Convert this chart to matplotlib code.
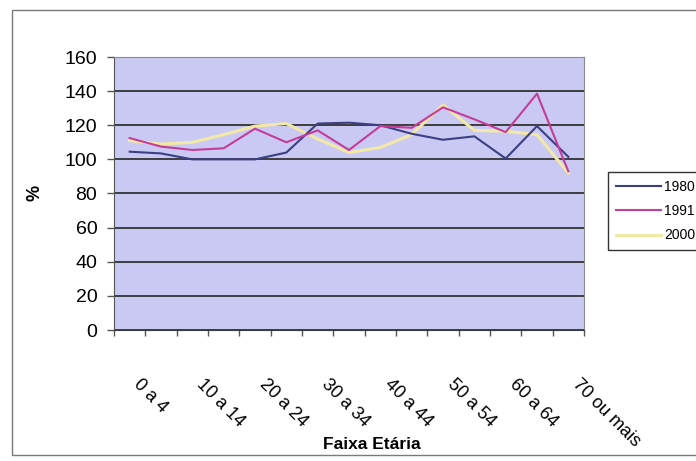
import matplotlib
matplotlib.use("Agg")
import matplotlib.pyplot as plt
from matplotlib.transforms import ScaledTranslation
from matplotlib.patches import Rectangle

# -------------------------
# data
# -------------------------
categories = ["0 a 4", "5 a 9", "10 a 14", "15 a 19", "20 a 24", "25 a 29",
              "30 a 34", "35 a 39", "40 a 44", "45 a 49", "50 a 54", "55 a 59",
              "60 a 64", "65 a 69", "70 ou mais"]
s1980 = [104.5, 103.5, 100, 100, 100, 104, 121, 121.5, 120, 115, 111.5, 113.5, 100.5, 119.5, 101.5]
s1991 = [112.5, 107.5, 105.5, 106.5, 118, 110, 117, 105.5, 119.5, 118.5, 130.5, 123.5, 116, 138.5, 93]
s2000 = [111, 109, 110, 114.5, 119.5, 121, 112, 104, 107, 114.5, 132, 117, 116.5, 114.5, 92]
y_ticks = [0, 20, 40, 60, 80, 100, 120, 140, 160]

plt.rcParams["font.family"] = ["Liberation Sans", "DejaVu Sans"]

W, H = 696, 461
fig = plt.figure(figsize=(W / 100, H / 100), dpi=100)
fig.patch.set_facecolor("white")

# outer chart frame
fig.patches.append(Rectangle((12 / W, 6 / H), 1.2, 1 - 16 / H, transform=fig.transFigure,
                             fill=False, edgecolor="#7a7a7a", linewidth=1.0))

ax = fig.add_axes([114 / W, 1 - 330 / H, 470 / W, 273 / H])
ax.set_facecolor("#c9c9f3")

x = list(range(len(categories)))
ax.plot(x, s2000, color="#f3e9a6", linewidth=2.2, label="2000", zorder=3)
ax.plot(x, s1980, color="#3c3f82", linewidth=1.5, label="1980", zorder=4)
ax.plot(x, s1991, color="#c43d98", linewidth=1.5, label="1991", zorder=5)

ax.set_xlim(-0.5, len(categories) - 0.5)
ax.set_ylim(0, 160)
ax.set_yticks(y_ticks)
ax.yaxis.grid(True, color="#333333", linewidth=1.3)
ax.set_axisbelow(True)
ax.tick_params(axis="y", length=5, width=1, color="#555555", pad=7, labelsize=14)

# category boundary ticks, labels every other category
ax.set_xticks([i - 0.5 for i in range(len(categories) + 1)])
ax.set_xticklabels([])
ax.tick_params(axis="x", which="major", length=4, width=1, color="#555555")
ax.set_xticks(x[::2], categories[::2], minor=True)
ax.tick_params(axis="x", which="minor", length=0, pad=0, labelsize=13)
off = ScaledTranslation(13 / 100, -46 / 100, fig.dpi_scale_trans)
for lab in ax.get_xticklabels(minor=True):
    lab.set_rotation(-45)
    lab.set_rotation_mode("anchor")
    lab.set_ha("left")
    lab.set_va("top")
    lab.set_transform(lab.get_transform() + off)

for side in ["top", "right"]:
    ax.spines[side].set_color("#8a8a8a")
ax.spines["left"].set_color("#555555")
ax.spines["bottom"].set_color("#3a3a3a")

fig.text(372 / W, 1 - 444 / H, "Faixa Etária", ha="center", va="center",
         fontsize=12.5, fontweight="bold")
fig.text(35 / W, 1 - 193 / H, "%", ha="center", va="center", rotation=90,
         fontsize=13, fontweight="bold")

h, l = ax.get_legend_handles_labels()
order = [1, 2, 0]
leg = fig.legend([h[i] for i in order], [l[i] for i in order],
                 loc="upper left", bbox_to_anchor=(608 / W, 1 - 172 / H),
                 frameon=True, fancybox=False, edgecolor="black", fontsize=10,
                 handlelength=3.3, handletextpad=0.2, labelspacing=0.75,
                 borderpad=0.55, borderaxespad=0)
leg.get_frame().set_linewidth(1.0)

plt.savefig("out.png", dpi=100)
